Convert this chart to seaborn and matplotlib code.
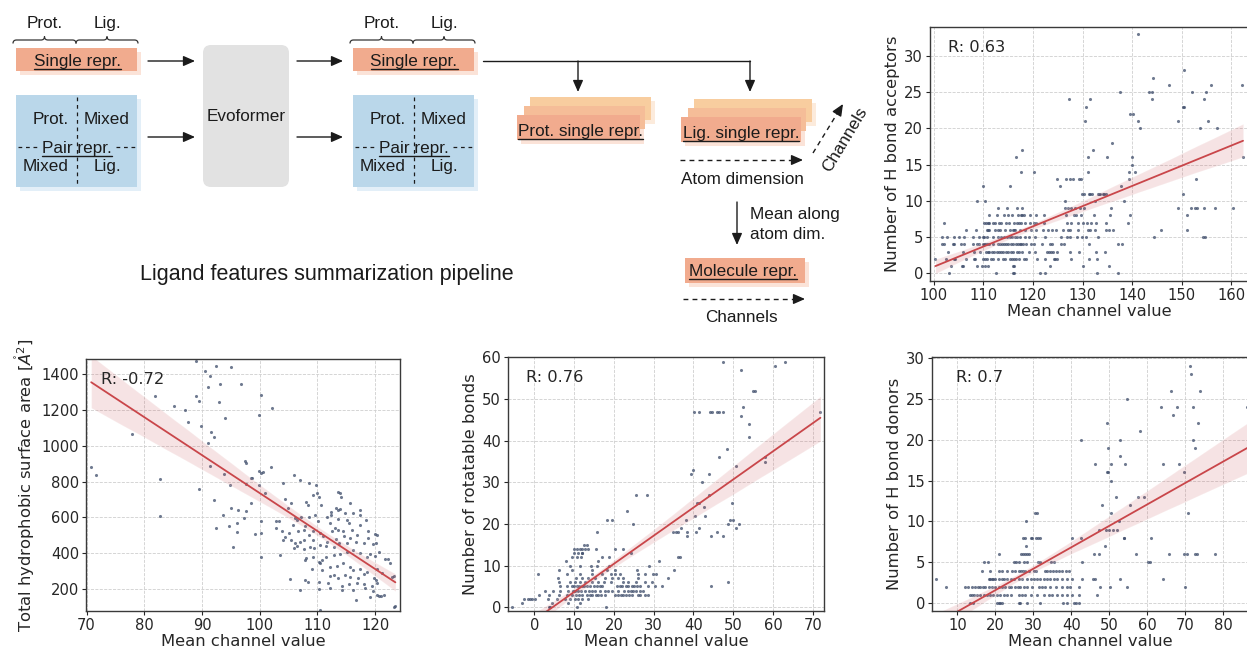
import numpy as np
import pandas as pd
import matplotlib
matplotlib.use("Agg")
import matplotlib.pyplot as plt
import seaborn as sns
from matplotlib.patches import Rectangle, FancyBboxPatch, PathPatch
from matplotlib.path import Path

# ---------------------------------------------------------------- data
# H bond acceptors: mean channel value of ligands, grouped by acceptor count
acc_counts = [0, 1, 2, 3, 4, 5, 6, 7, 8, 9, 10, 11, 12, 13, 14, 15, 16, 17,
              18, 20, 21, 22, 23, 24, 25, 26, 27, 28, 33]
acc_channel = [
    [103.1, 112.6, 116.0, 116.2, 121.5, 122.5, 133.0, 137.2],
    [103.4, 105.6, 105.9, 108.6, 109.7, 110.3, 111.0, 115.9, 116.2, 123.5, 130.1, 135.3],
    [100.3, 102.4, 104.1, 104.3, 106.5, 108.0, 108.3, 109.9, 110.3, 110.7, 111.6, 112.0,
     113.0, 113.9, 114.4, 115.3, 115.8, 116.2, 116.6, 117.2, 118.1, 118.6, 120.8, 122.4,
     124.3, 124.5, 124.9, 127.7, 131.2, 133.0],
    [102.9, 105.9, 108.0, 109.2, 110.5, 110.9, 111.2, 111.7, 112.2, 112.7, 113.1, 113.5,
     114.0, 114.5, 114.9, 115.5, 115.9, 116.7, 117.1, 117.7, 119.2, 120.3, 122.8, 123.2,
     123.6, 124.0, 124.9, 127.4, 129.2, 132.8, 134.6],
    [101.6, 102.0, 103.8, 104.1, 105.5, 106.1, 107.8, 108.6, 109.1, 109.8, 110.1, 110.3,
     110.7, 111.2, 112.0, 113.0, 113.4, 113.8, 114.1, 114.5, 115.0, 115.5, 115.9, 116.5,
     117.0, 117.4, 117.6, 118.0, 118.6, 119.5, 120.1, 121.9, 123.4, 123.9, 125.7, 126.3,
     131.4, 137.1, 138.0],
    [101.6, 102.7, 104.1, 105.1, 106.1, 107.8, 109.1, 110.0, 110.1, 110.7, 112.0, 113.0,
     113.6, 114.2, 114.7, 115.3, 115.8, 116.3, 116.8, 117.4, 118.4, 119.1, 120.3, 122.5,
     125.7, 126.9, 127.5, 128.8, 129.8, 130.7, 133.2, 144.5, 154.3, 154.7],
    [106.4, 108.5, 110.7, 110.9, 111.2, 112.3, 113.0, 113.4, 114.3, 115.3, 115.9, 116.1,
     116.3, 117.3, 118.4, 119.5, 120.5, 122.1, 123.0, 123.9, 124.7, 126.1, 127.0, 127.4,
     129.1, 131.1, 131.6, 132.6, 134.7, 135.4, 136.2, 145.8, 151.0],
    [102.1, 110.1, 110.6, 110.9, 111.1, 112.0, 112.4, 113.2, 113.6, 114.5, 115.1, 116.1,
     116.8, 117.2, 117.5, 118.4, 119.3, 120.1, 120.7, 122.3, 126.9, 127.7, 129.1, 130.1,
     130.9, 131.8, 132.7, 134.8, 139.1],
    [111.1, 112.7, 114.1, 114.9, 115.7, 116.9, 117.6, 117.8, 118.1, 119.4, 120.7, 122.2,
     126.6, 128.2, 128.7, 129.6, 132.3, 135.5, 139.5, 151.1],
    [112.9, 114.7, 116.8, 117.7, 126.5, 127.0, 127.7, 128.4, 129.4, 130.3, 135.7, 149.2,
     151.9, 152.6, 153.2, 154.6, 156.8, 160.3],
    [108.6, 110.4, 126.5, 132.5, 138.3],
    [129.9, 130.3, 131.3, 131.6, 131.9, 133.1, 133.4, 133.6, 134.1, 134.4, 134.8, 150.2],
    [109.9, 115.4, 125.4, 137.7],
    [124.9, 126.6, 127.4, 128.0, 129.3, 129.7, 139.3, 153.0],
    [117.6, 120.1, 131.1, 139.3, 140.5],
    [140.0],
    [116.5, 131.0, 134.9, 140.0, 162.4],
    [117.7, 132.1],
    [136.0],
    [141.6, 153.8, 157.1],
    [130.4, 141.1, 149.2, 155.3],
    [139.6, 140.1],
    [130.7, 150.3, 150.4],
    [127.3, 131.6, 144.0, 154.5],
    [137.6, 143.5, 144.0, 152.0, 154.9],
    [147.5, 155.9, 162.1],
    [144.2],
    [150.4],
    [141.2],
]

# Total hydrophobic surface area against mean channel value
hsa_channel = [
    89.0, 90.6, 91.4, 91.0, 92.5, 93.1, 95.1, 96.8, 81.9, 88.9, 89.5, 92.9, 85.1, 87.1,
    100.3, 102.2, 99.9, 93.9, 87.5, 89.9, 77.9, 91.5, 92.0, 91.1, 70.8, 71.7, 97.5, 97.7,
    91.4, 93.8, 82.8, 98.4, 94.9, 97.7, 89.4, 92.1, 98.4, 95.1, 96.3, 93.6, 82.7, 97.7,
    97.3, 96.0, 92.5, 94.6, 96.1, 95.3,
    102.0, 99.9, 100.3, 100.6, 98.6, 106.0, 107.0, 104.1, 108.6, 109.8, 99.9, 100.9,
    109.3, 109.9, 110.2, 113.5, 113.9, 114.1, 104.4, 105.4, 108.1, 108.3, 110.6, 113.2,
    113.6, 113.9, 112.3, 115.7, 117.4, 114.8, 116.2, 112.4, 111.6, 109.6, 108.6, 107.2,
    106.4, 106.1, 104.9, 102.9, 103.4, 100.3, 99.2, 100.3, 102.8, 103.8, 105.8, 107.9,
    110.1, 112.2, 113.5, 113.6, 115.1, 115.5, 117.3, 118.4, 117.4, 116.0, 114.5, 113.1,
    112.5, 110.5, 109.3, 107.6, 106.6, 105.1, 104.3, 104.1, 105.5, 106.1, 106.9, 107.6,
    108.6, 109.2, 110.9, 111.7, 113.2, 114.6, 115.7, 116.8, 118.8, 118.7, 120.0, 120.3,
    120.2, 119.7, 118.0, 116.7, 115.1, 113.8, 112.8, 111.5, 110.5, 109.4, 108.7, 107.6,
    106.5, 106.0, 108.0, 107.9, 109.3, 110.2, 110.5, 110.7, 111.5, 112.8, 113.9, 115.1,
    116.2, 117.4, 118.5, 119.1, 120.6, 120.0, 121.7, 122.3, 122.6, 103.5, 100.2, 109.0,
    110.7, 112.2, 113.3, 114.5, 115.7, 116.2, 117.4, 118.5, 120.3, 121.2, 112.1, 112.8,
    113.6, 114.7, 115.7, 117.1, 118.0, 119.8, 120.2, 122.9, 123.3, 105.3, 107.9, 108.4,
    110.3, 111.9, 114.2, 115.4, 116.8, 118.1, 119.4, 120.3, 107.0, 110.2, 112.2, 114.2,
    116.2, 118.3, 119.7, 119.1, 120.3, 120.6, 121.0, 121.6, 116.7, 110.5, 123.2, 123.5,
]
hsa_area = [
    1475, 1417, 1387, 1328, 1443, 1346, 1438, 1346, 1277, 1279, 1248, 1242, 1224, 1197,
    1285, 1210, 1173, 1154, 1132, 1108, 1067, 1076, 1048, 1015, 879, 834, 912, 905,
    884, 843, 815, 819, 782, 788, 759, 698, 679, 651, 642, 614, 608, 638,
    595, 571, 543, 554, 517, 433,
    880, 856, 847, 851, 819, 838, 810, 791, 791, 782, 782, 735,
    726, 735, 716, 744, 735, 716, 701, 679, 688, 670, 670, 651,
    642, 646, 632, 679, 642, 623, 623, 614, 604, 614, 604, 604,
    586, 595, 651, 577, 577, 577, 508, 515, 539, 521, 558, 549,
    577, 571, 590, 530, 586, 571, 614, 586, 558, 530, 521, 539,
    521, 511, 521, 530, 521, 515, 489, 474, 474, 459, 465, 474,
    502, 474, 493, 465, 478, 493, 483, 502, 521, 483, 508, 502,
    455, 452, 455, 465, 455, 455, 437, 440, 446, 428, 433, 422,
    440, 428, 371, 362, 377, 353, 344, 362, 381, 390, 394, 409,
    418, 400, 381, 396, 409, 385, 366, 368, 344, 390, 377, 310,
    306, 325, 329, 344, 325, 306, 310, 297, 310, 288, 273, 278,
    260, 278, 269, 260, 284, 260, 250, 269, 273, 254, 250, 241,
    241, 232, 217, 228, 236, 228, 217, 232, 194, 198, 204, 194,
    194, 204, 191, 157, 166, 161, 161, 166, 139, 83, 101, 105,
]

# Rotatable bonds: mean channel value grouped by bond count
rot_counts = [0, 1, 2, 3, 4, 5, 6, 7, 8, 9, 10, 11, 12, 13, 14, 15, 17, 18, 19, 20,
              21, 22, 23, 24, 25, 27, 30, 32, 33, 34, 35, 36, 38, 41, 44, 46, 47, 48,
              52, 57, 58, 59]
rot_channel = [
    [-5.6, 3.6, 4.0, 10.7, 18.0],
    [-3.1, 4.4, 8.6, 11.5],
    [-2.7, -1.6, -1.0, -0.6, 0.1, 3.4, 5.7, 7.8, 9.0, 10.3, 10.9, 11.9, 13.6],
    [1.1, 3.8, 6.1, 8.2, 9.4, 10.5, 11.3, 11.9, 13.2, 14.0, 14.6, 15.5, 16.1, 16.8, 17.8,
     20.3, 21.1, 21.8, 22.4, 23.0, 23.8, 24.5, 26.0, 26.6, 27.8, 28.7],
    [2.6, 4.8, 6.5, 8.6, 9.7, 10.3, 11.1, 11.8, 12.8, 13.8, 14.6, 15.3, 16.4, 17.8, 18.6,
     19.5, 21.1, 22.6, 23.5, 24.3, 24.9, 25.6, 26.6, 27.4],
    [6.5, 8.2, 9.4, 10.1, 10.7, 11.3, 11.9, 12.6, 13.2, 14.0, 14.9, 15.7, 16.5, 16.9, 20.7,
     21.5, 22.1, 23.0, 23.6, 24.5, 25.1, 25.7, 26.6, 28.7, 30.4, 32.2, 44.4],
    [6.1, 9.0, 10.3, 11.5, 12.8, 14.6, 16.0, 17.4, 19.3, 22.4, 23.5, 25.5, 27.8, 29.5, 48.7],
    [5.9, 10.5, 12.1, 13.6, 15.3, 17.8, 19.6, 21.1, 22.4, 26.1, 33.7],
    [0.9, 8.2, 11.5, 14.6, 16.9, 19.2, 20.3, 21.5, 26.1, 27.8, 29.9, 30.5],
    [6.3, 9.4, 14.6, 18.2, 20.3, 25.7, 35.2],
    [8.9, 11.5, 14.3, 15.7, 18.8, 28.8],
    [8.0, 16.0, 31.3],
    [9.4, 10.7, 11.8, 16.9, 18.8, 36.1, 36.7],
    [9.9, 11.1, 11.9, 12.1, 24.3],
    [9.9, 10.7, 11.5, 11.9, 12.8, 13.4, 15.5, 20.3, 22.4],
    [12.6, 13.2],
    [38.5, 44.3, 47.5],
    [15.8, 34.8, 35.5, 36.0, 38.5, 40.6, 45.8],
    [36.9, 41.4, 50.6],
    [24.7, 48.8, 51.4],
    [18.4, 19.5, 38.1, 49.1, 50.0],
    [40.4, 42.8],
    [23.3],
    [42.6],
    [40.9, 41.4, 49.7],
    [25.6, 28.4, 43.8],
    [42.1],
    [39.5, 43.8],
    [39.8],
    [50.7],
    [58.1],
    [46.4, 58.1],
    [48.5],
    [54.0],
    [54.0],
    [51.9],
    [40.1, 41.4, 44.1, 44.7, 45.8, 46.3, 47.5, 71.9],
    [52.5],
    [55.0, 55.5],
    [51.9],
    [60.4],
    [47.3, 62.9],
]

# H bond donors: mean channel value grouped by donor count
don_counts = [0, 1, 2, 3, 4, 5, 6, 7, 8, 9, 10, 11, 12, 13, 15, 16, 17, 18, 19, 20,
              21, 22, 23, 24, 25, 26, 28, 29]
don_channel = [
    [13.4, 14.1, 20.4, 20.9, 21.3, 21.8, 26.2, 26.6, 28.4, 31.9, 37.9, 39.0, 40.7, 41.3, 42.0],
    [13.2, 13.8, 14.4, 15.1, 16.0, 16.9, 17.8, 18.7, 19.5, 20.4, 21.3, 22.2, 23.1, 24.0,
     26.2, 27.0, 27.9, 29.3, 31.0, 32.8, 34.1, 35.0, 36.3, 37.6, 39.0, 40.3, 42.0, 46.7],
    [7.0, 12.0, 12.9, 13.8, 14.7, 15.4, 16.0, 16.7, 17.3, 18.2, 19.1, 20.0, 20.9, 21.8,
     22.6, 23.5, 24.0, 25.3, 25.9, 26.6, 27.5, 28.4, 29.7, 31.5, 32.3, 33.2, 34.5, 35.9,
     37.6, 39.0, 39.8, 42.0, 47.6, 50.2, 54.6, 70.1],
    [4.4, 18.2, 18.7, 19.1, 19.5, 20.0, 20.9, 21.8, 22.4, 23.1, 24.0, 24.8, 26.2, 27.0,
     28.4, 29.3, 30.1, 31.0, 31.9, 32.8, 33.7, 34.5, 35.4, 36.3, 37.6, 39.0, 40.3, 42.9,
     45.7, 46.3, 52.8, 64.1],
    [16.4, 18.5, 20.9, 21.8, 23.2, 24.4, 25.3, 26.2, 26.8, 27.3, 27.9, 28.8, 30.1, 30.8,
     33.0, 33.7, 34.4, 35.3, 36.1, 36.7, 37.6, 38.5, 39.4],
    [16.9, 18.0, 24.8, 25.5, 26.2, 27.5, 28.4, 31.2, 31.7, 34.8, 35.5, 42.9, 60.3, 60.8],
    [21.0, 26.8, 27.3, 27.7, 28.4, 28.8, 46.0, 47.3, 57.0, 65.9, 69.8, 70.4, 72.7, 73.2, 78.0],
    [28.1, 48.9],
    [27.3, 27.7, 29.3, 29.7, 30.8, 31.3, 31.7, 40.3, 42.5, 53.8, 54.0, 61.0],
    [47.2, 49.1, 50.0, 50.9, 52.0],
    [28.2, 52.5],
    [30.4, 31.0, 50.4, 70.9],
    [48.2, 55.4],
    [51.7, 57.7, 59.2],
    [50.6],
    [49.3, 49.8, 69.6],
    [46.3, 50.5, 54.1, 64.1, 68.3],
    [52.9],
    [49.8, 72.7],
    [42.7, 52.8, 72.2],
    [58.2],
    [49.5, 73.4],
    [66.8],
    [63.7, 67.9, 72.0, 86.4],
    [54.6],
    [66.3, 74.0],
    [71.6],
    [71.4],
]

r_values = ["0.63", "-0.72", "0.76", "0.7"]


def grouped(counts, channel):
    rows = [(x, c) for c, xs in zip(counts, channel) for x in xs]
    return pd.DataFrame(rows, columns=["channel", "value"])


acc_df = grouped(acc_counts, acc_channel)
rot_df = grouped(rot_counts, rot_channel)
don_df = grouped(don_counts, don_channel)
hsa_df = pd.DataFrame({"channel": hsa_channel, "value": hsa_area})

# ---------------------------------------------------------------- figure
sns.set_theme(style="ticks")
plt.rcParams["font.family"] = ["DejaVu Sans"]
W, H = 1247, 651
fig = plt.figure(figsize=(W / 100, H / 100), dpi=100)
fig.patch.set_facecolor("white")

# pipeline sketch, drawn in pixel units
dax = fig.add_axes([0, 0, 1, 1])
dax.set_xlim(0, W)
dax.set_ylim(H, 0)
dax.axis("off")

SANS = ["Liberation Sans", "DejaVu Sans"]
INK = "#1b1b1b"
ORANGE, ORANGE_SH = "#f1ab8e", "#fbe3d8"
BLUE, BLUE_SH = "#bad7ea", "#e3eff8"
PEACH, PEACH2 = "#f8cd9f", "#f5bd98"
underlined = []


def box(x, y, w, h, fc, shadow=None, off=4):
    if shadow:
        dax.add_patch(Rectangle((x + off, y + off), w, h, fc=shadow, ec="none", zorder=1))
    dax.add_patch(Rectangle((x, y), w, h, fc=fc, ec="none", zorder=2))


def label(x, y, s, size=12.3, underline=False, ha="center", va="baseline", **kw):
    t = dax.text(x, y, s, ha=ha, va=va, fontsize=size, family=SANS,
                 color=INK, zorder=5, **kw)
    if underline:
        underlined.append(t)
    return t


def arrow(x0, y0, x1, y1):
    dax.annotate("", xy=(x1, y1), xytext=(x0, y0), zorder=4,
                 arrowprops=dict(arrowstyle="-|>,head_length=0.5,head_width=0.22",
                                 color=INK, lw=1.0, shrinkA=0, shrinkB=0,
                                 mutation_scale=14))


def dashed_arrow(x0, y0, x1, y1):
    v = np.array([x1 - x0, y1 - y0], float)
    u = v / np.hypot(*v)
    tip = np.array([x1, y1])
    base = tip - 8 * u
    dax.plot([x0, base[0]], [y0, base[1]], color=INK, lw=1.0,
             ls=(0, (3.5, 3)), zorder=4)
    arrow(base[0], base[1], x1, y1)


def brace(x0, x1, y, h=3.5):
    xm = (x0 + x1) / 2
    verts = [(x0, y + h), (x0, y), (x0 + h, y), (xm - h, y), (xm, y), (xm, y - h),
             (xm, y), (xm + h, y), (x1 - h, y), (x1, y), (x1, y + h)]
    codes = [Path.MOVETO, Path.CURVE3, Path.CURVE3, Path.LINETO, Path.CURVE3,
             Path.CURVE3, Path.CURVE3, Path.CURVE3, Path.LINETO, Path.CURVE3, Path.CURVE3]
    dax.add_patch(PathPatch(Path(verts, codes), fc="none", ec="#333333", lw=0.9, zorder=4))


def repr_column(x0):
    # single representation
    label(x0 + 29, 28, "Prot.")
    label(x0 + 91, 28, "Lig.")
    brace(x0 - 3, x0 + 60, 40)
    brace(x0 + 60, x0 + 122, 40)
    box(x0, 48, 121, 23, ORANGE, ORANGE_SH)
    label(x0 + 61, 66, "Single repr.", underline=True)
    # pair representation
    box(x0, 95, 121, 92, BLUE, BLUE_SH)
    dax.plot([x0 + 61, x0 + 61], [97, 186], color=INK, lw=0.9, ls=(0, (3, 3)), zorder=3)
    dax.plot([x0 + 2, x0 + 23], [147, 147], color=INK, lw=0.9, ls=(0, (3, 3)), zorder=3)
    dax.plot([x0 + 100, x0 + 120], [147, 147], color=INK, lw=0.9, ls=(0, (3, 3)), zorder=3)
    label(x0 + 35, 124, "Prot.")
    label(x0 + 91, 124, "Mixed")
    label(x0 + 61, 153, "Pair repr.", underline=True)
    label(x0 + 30, 171, "Mixed")
    label(x0 + 91, 171, "Lig.")


repr_column(16)
repr_column(353)

arrow(148, 61, 195, 61)
arrow(148, 137, 195, 137)
dax.add_patch(FancyBboxPatch((211, 53), 70, 126, boxstyle="round,pad=8",
                             fc="#e2e2e2", ec="none", zorder=2))
label(246, 121, "Evoformer")
arrow(297, 61, 343, 61)
arrow(297, 137, 343, 137)

# split of the single representation
dax.plot([483, 750], [61, 61], color=INK, lw=1.0, zorder=4)
arrow(578, 61, 578, 92)
arrow(750, 61, 750, 92)


def stack(x, y, w, h, text, tx):
    box(x + 13, y, w, h, PEACH, "#fcebdc")
    box(x + 6.5, y + 9, w, h, PEACH2)
    box(x, y + 18, w + 2, h + 2, ORANGE, ORANGE_SH)
    label(tx, y + 39, text, underline=True)


stack(517, 97, 121, 23, "Prot. single repr.", 580)
stack(681, 99, 118, 23, "Lig. single repr.", 741)

dashed_arrow(680, 160, 803, 160)
label(742, 184, "Atom dimension")
dashed_arrow(813, 153, 843, 104)
label(845, 140, "Channels", rotation=59, rotation_mode="anchor", va="center")
arrow(737, 202, 737, 245)
label(750, 219, "Mean along", ha="left")
label(750, 239, "atom dim.", ha="left")
box(685, 258, 120, 25, ORANGE, ORANGE_SH)
label(743, 276, "Molecule repr.", underline=True)
dashed_arrow(683, 299, 805, 299)
label(741, 322, "Channels")
label(327, 280, "Ligand features summarization pipeline", size=15.5)

# ---------------------------------------------------------------- scatter panels
POINT = "#3f4d6b"
LINE = "#c9464a"


def panel(rect, df, xlim, ylim, xticks, yticks, ylabel, r_text, r_x=0.058):
    ax = fig.add_axes(rect)
    sns.regplot(data=df, x="channel", y="value", ax=ax, ci=95, seed=0,
                scatter_kws=dict(s=5, color=POINT, alpha=0.75, linewidths=0),
                line_kws=dict(color=LINE, lw=1.3))
    ax.set_xlim(*xlim)
    ax.set_ylim(*ylim)
    ax.set_xticks(xticks)
    ax.set_yticks(yticks)
    ax.set_xlabel("Mean channel value", fontsize=11.8, labelpad=1, color="#262626")
    ax.set_ylabel(ylabel, fontsize=11.8, labelpad=3, color="#262626")
    ax.grid(True, ls="--", lw=0.6, color="#cfcfcf")
    ax.set_axisbelow(True)
    for sp in ax.spines.values():
        sp.set_color("#3a3a3a")
        sp.set_linewidth(1.0)
    ax.tick_params(labelsize=10.6, length=3, width=0.8, pad=2, colors="#262626")
    ax.text(r_x, 0.92, "R: " + r_text, transform=ax.transAxes, fontsize=11.7,
            va="center", color="#262626")
    return ax


def rect(left, top, right, bottom):
    return [left / W, 1 - bottom / H, (right - left) / W, (bottom - top) / H]


panel(rect(930, 27, 1248, 281), acc_df, (99.2, 163.4), (-1.05, 34.0),
      range(100, 161, 10), range(0, 31, 5), "Number of H bond acceptors", r_values[0])
panel(rect(86, 359, 400, 611), hsa_df, (69.9, 124.3), (77, 1484),
      range(70, 121, 10), range(200, 1401, 200),
      r"Total hydrophobic surface area [$\mathring{A}^2$]", r_values[1], r_x=0.048)
panel(rect(508, 357, 824, 611), rot_df, (-6.6, 72.8), (-0.9, 60.1),
      range(0, 71, 10), range(0, 61, 10), "Number of rotatable bonds", r_values[2])
panel(rect(932, 357, 1248, 611), don_df, (3.3, 86.6), (-0.94, 30.1),
      range(10, 81, 10), range(0, 31, 5), "Number of H bond donors", r_values[3],
      r_x=0.076)

# underline the representation names
fig.canvas.draw()
renderer = fig.canvas.get_renderer()
inv = dax.transData.inverted()
for t in underlined:
    bb = t.get_window_extent(renderer=renderer)
    (xa, _), (xb, _) = inv.transform([[bb.x0, bb.y0], [bb.x1, bb.y1]])
    yb = t.get_position()[1] + 2.5
    dax.plot([xa, xb], [yb, yb], color=INK, lw=1.0, zorder=5)

fig.savefig("out.png", dpi=100, facecolor="white")
